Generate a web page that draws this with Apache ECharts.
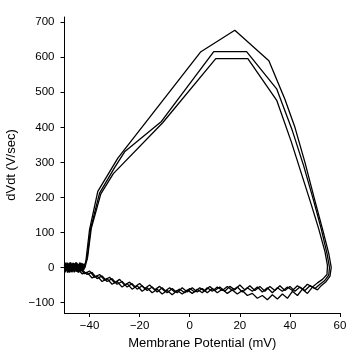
<!DOCTYPE html>
<html>
<head>
<meta charset="utf-8">
<script src="https://cdn.jsdelivr.net/npm/echarts@6/dist/echarts.min.js"></script>
<style>html,body{margin:0;padding:0;background:#fff}#c{width:360px;height:360px}</style>
</head>
<body>
<div id="c"></div>
<script>
var xTicks = [-40, -20, 0, 20, 40, 60];
var yTicks = [-100, 0, 100, 200, 300, 400, 500, 600, 700];

var traceA = [
[-50,6],[-49.7,-12],[-49.4,14],[-49.1,-8],[-48.8,11],[-48.5,-14],[-48.2,12],[-47.9,-6],[-47.6,15],[-47.3,-13],[-47,9],[-46.7,-11],[-46.4,13],[-46.1,-9],[-45.8,11],[-45.5,-7],[-45.2,14],[-44.9,-12],[-44.6,10],[-44.3,-15],[-44,12],[-43.7,-8],[-43.4,13],[-43.1,-11],[-42.8,9],[-42.5,-7],[-42.2,10],[-41.9,2],
[-41.4,22],[-40,108],[-36.7,217],[-28.7,312],[4.3,615],[18,677],[31.6,590],[38,480],[42,400],[46,300],[50,190],[53,110],[55.5,40],[56.5,0],[56,-25],[54.5,-40],
[52.5,-52],[51,-64],[49,-56],[47,-74],[45,-62],[43,-80],[41,-68],[39,-88],[37,-76],[35,-90],[33,-78],[31,-92],[29,-80],[27,-88],[25,-74],[23,-80],[21,-66],[19,-76],[17,-64],[15,-74],[13,-62],[11,-72],[9,-60],[7,-72],[5,-60],[3,-70],[1,-58],[-1,-70],[-3,-58],[-5,-72],[-7,-60],[-9,-72],[-11,-58],[-13,-70],[-15,-56],[-17,-66],[-19,-52],[-21,-62],[-23,-46],[-25,-56],[-27,-40],[-29,-48],[-31,-32],[-33,-40],[-35,-24],[-37,-32],[-39,-14],[-41,-20],[-43,-6],[-45,-12],[-47,4],[-49,-8],[-50,3]
];

var traceB = [
[-50,-4],[-49.7,13],[-49.4,-11],[-49.1,10],[-48.8,-15],[-48.5,11],[-48.2,-9],[-47.9,14],[-47.6,-12],[-47.3,10],[-47,-14],[-46.7,12],[-46.4,-8],[-46.1,11],[-45.8,-13],[-45.5,15],[-45.2,-10],[-44.9,12],[-44.6,-14],[-44.3,9],[-44,-11],[-43.7,13],[-43.4,-9],[-43.1,12],[-42.8,-12],[-42.5,10],[-42.2,-6],[-41.9,8],
[-41,25],[-39.6,110],[-36,212],[-30,285],[-26,330],[-11.3,417],[9.6,616],[22.7,616],[34.7,510],[41,390],[45.5,290],[49.5,190],[52.5,110],[54.8,40],[55.8,0],[55.5,-22],[53.8,-38],
[52,-48],[50,-60],[48,-52],[46,-66],[44,-56],[42,-68],[40,-54],[38,-66],[36,-52],[34,-66],[32,-54],[30,-68],[28,-54],[26,-66],[24,-52],[22,-64],[20,-50],[18,-64],[16,-54],[14,-68],[12,-56],[10,-66],[8,-54],[6,-68],[4,-58],[2,-70],[0,-60],[-2,-72],[-4,-62],[-6,-70],[-8,-58],[-10,-68],[-12,-54],[-14,-64],[-16,-50],[-18,-60],[-20,-46],[-22,-56],[-24,-42],[-26,-50],[-28,-34],[-30,-44],[-32,-28],[-34,-36],[-36,-20],[-38,-28],[-40,-10],[-42,-18],[-44,-2],[-46,-10],[-48,5],[-50,-6]
];

var traceC = [
[-50,8],[-49.7,-14],[-49.4,12],[-49.1,-9],[-48.8,14],[-48.5,-11],[-48.2,8],[-47.9,-15],[-47.6,12],[-47.3,-10],[-47,13],[-46.7,-12],[-46.4,10],[-46.1,-14],[-45.8,11],[-45.5,-8],[-45.2,13],[-44.9,-13],[-44.6,9],[-44.3,-10],[-44,14],[-43.7,-12],[-43.4,10],[-43.1,-9],[-42.8,12],[-42.5,-6],[-42.2,9],[-41.9,-2],
[-40.8,28],[-39.3,112],[-35.5,210],[-30.5,268],[-10.8,413],[10.4,596],[23.2,596],[34.8,476],[40.5,360],[44.5,270],[48.5,180],[51.5,110],[54,45],[55,5],[54.8,-20],[53,-34],
[51,-44],[49,-56],[47,-48],[45,-62],[43,-52],[41,-66],[39,-56],[37,-68],[35,-58],[33,-72],[31,-58],[29,-70],[27,-56],[25,-68],[23,-58],[21,-70],[19,-56],[17,-66],[15,-54],[13,-66],[11,-56],[9,-68],[7,-58],[5,-72],[3,-62],[1,-74],[-1,-64],[-3,-76],[-5,-66],[-7,-78],[-9,-66],[-11,-76],[-13,-62],[-15,-72],[-17,-58],[-19,-68],[-21,-52],[-23,-62],[-25,-46],[-27,-56],[-29,-40],[-31,-48],[-33,-32],[-35,-40],[-37,-24],[-39,-30],[-41,-14],[-43,-18],[-45,-2],[-47,-10],[-49,6],[-50,-4]
];

var fmt = function (v) { return String(v).replace('-', '\u2212'); };
var FONT = 'Liberation Sans, Arial, sans-serif';

var chart = echarts.init(document.getElementById('c'), null, {renderer: 'canvas'});
function mk(d) {
  return {type: 'line', data: d, showSymbol: false, symbol: 'none',
    lineStyle: {color: '#000', width: 1.3}, clip: true, silent: true};
}
chart.setOption({
  animation: false,
  backgroundColor: '#fff',
  grid: {left: 64.5, right: 20, top: 17, bottom: 47, containLabel: false, outerBoundsMode: 'none'},
  xAxis: {
    type: 'value', min: -50, max: 60,
    name: 'Membrane Potential (mV)', nameLocation: 'middle', nameGap: 22,
    nameTextStyle: {color: '#000', fontSize: 13, fontFamily: FONT},
    axisLine: {onZero: false, lineStyle: {color: '#000', width: 1}},
    axisTick: {show: true, length: 4, customValues: xTicks, lineStyle: {color: '#000'}},
    axisLabel: {customValues: xTicks, formatter: fmt, color: '#000', fontSize: 11.5, fontFamily: FONT, margin: 7},
    splitLine: {show: false}
  },
  yAxis: {
    type: 'value', min: -130, max: 715,
    name: 'dVdt (V/sec)', nameLocation: 'middle', nameGap: 39,
    nameTextStyle: {color: '#000', fontSize: 13, fontFamily: FONT},
    axisLine: {show: true, onZero: false, lineStyle: {color: '#000', width: 1}},
    axisTick: {show: true, length: 4, customValues: yTicks, lineStyle: {color: '#000'}},
    axisLabel: {customValues: yTicks, formatter: fmt, color: '#000', fontSize: 11.5, fontFamily: FONT, margin: 10},
    splitLine: {show: false}
  },
  series: [mk(traceA), mk(traceB), mk(traceC)]
});
</script>
</body>
</html>
